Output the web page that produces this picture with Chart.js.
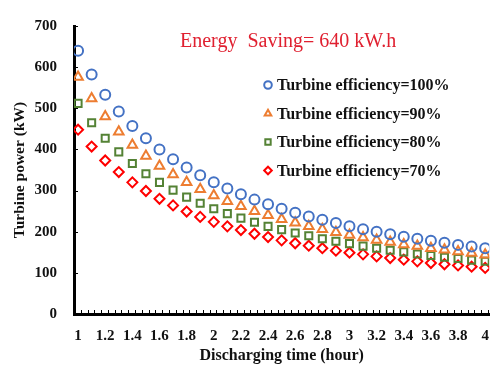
<!DOCTYPE html>
<html>
<head>
<meta charset="utf-8">
<script src="https://cdn.jsdelivr.net/npm/chart.js@4.4.1/dist/chart.umd.min.js"></script>
<style>
  html, body { margin: 0; padding: 0; background: #fff; }
  #wrap { width: 502px; height: 366px; position: relative; }
</style>
</head>
<body>
<div id="wrap"><canvas id="powerChart"></canvas></div>
<script>
const hours = [1.0, 1.1, 1.2, 1.3, 1.4, 1.5, 1.6, 1.7, 1.8, 1.9, 2.0, 2.1, 2.2, 2.3, 2.4, 2.5,
               2.6, 2.7, 2.8, 2.9, 3.0, 3.1, 3.2, 3.3, 3.4, 3.5, 3.6, 3.7, 3.8, 3.9, 4.0];
const eff100 = [640, 582, 533, 492, 457, 427, 400, 376, 356, 337, 320, 305, 291, 278, 267, 256,
                246, 237, 229, 221, 213, 206, 200, 194, 188, 183, 178, 173, 168, 164, 160];
const eff90 = [576, 524, 480, 443, 411, 384, 360, 339, 320, 303, 288, 274, 262, 250, 240, 230,
               222, 213, 206, 199, 192, 186, 180, 175, 169, 165, 160, 156, 152, 148, 144];
const eff80 = [512, 465, 427, 394, 366, 341, 320, 301, 284, 269, 256, 244, 233, 223, 213, 205,
               197, 190, 183, 177, 171, 165, 160, 155, 151, 146, 142, 138, 135, 131, 128];
const eff70 = [448, 407, 373, 345, 320, 299, 280, 264, 249, 236, 224, 213, 204, 195, 187, 179,
               172, 166, 160, 154, 149, 145, 140, 136, 132, 128, 124, 121, 118, 115, 112];
const xTickLabels = [1, 1.2, 1.4, 1.6, 1.8, 2, 2.2, 2.4, 2.6, 2.8, 3, 3.2, 3.4, 3.6, 3.8, 4];
const seriesNames = ['Turbine efficiency=100%', 'Turbine efficiency=90%', 'Turbine efficiency=80%', 'Turbine efficiency=70%'];
const annotation = 'Energy  Saving= 640 kW.h';

const SERIF = '"Liberation Serif", "Times New Roman", serif';
const colors = ['#4472C4', '#ED7D31', '#548235', '#FF0000'];
const shapes = ['circle', 'triangle', 'rect', 'rectRot'];
const radii = [5, 5.5, 5, 5];

const pts = arr => arr.map((v, i) => ({ x: hours[i], y: v }));

// inward tick marks, legend and the red note
const decorations = {
    id: 'decorations',
    afterDraw(chart) {
        const ctx = chart.ctx;
        const xs = chart.scales.x, ys = chart.scales.y;
        const area = chart.chartArea;
        ctx.save();
        ctx.strokeStyle = '#000';
        ctx.lineWidth = 1;
        for (let v = xs.min; v <= xs.max + 1e-9; v += 0.05) {
            const px = Math.round(xs.getPixelForValue(v)) + 0.5;
            ctx.beginPath();
            ctx.moveTo(px, area.bottom);
            ctx.lineTo(px, area.bottom - 4);
            ctx.stroke();
        }
        for (let v = 100; v <= 700; v += 100) {
            const py = Math.round(ys.getPixelForValue(v)) + 0.5;
            ctx.beginPath();
            ctx.moveTo(area.left, py);
            ctx.lineTo(area.left + 4, py);
            ctx.stroke();
        }

        ctx.fillStyle = '#E02030';
        ctx.font = '20px ' + SERIF;
        ctx.textBaseline = 'middle';
        ctx.textAlign = 'left';
        ctx.fillText(annotation, 180, 42);

        ctx.font = 'bold 16px ' + SERIF;
        chart.data.datasets.forEach((ds, i) => {
            const y = 85 + i * 28.5;
            ctx.strokeStyle = ds.borderColor;
            ctx.fillStyle = '#fff';
            ctx.lineWidth = 2;
            Chart.helpers.drawPoint(ctx, {
                pointStyle: ds.pointStyle, radius: 3.8, borderWidth: 2
            }, 268, y);
            ctx.fillStyle = '#111';
            ctx.fillText(ds.label, 277, y + 1);
        });
        ctx.restore();
    }
};

new Chart(document.getElementById('powerChart'), {
    type: 'scatter',
    data: {
        datasets: [eff100, eff90, eff80, eff70].map((arr, i) => ({
            label: seriesNames[i],
            data: pts(arr),
            pointStyle: shapes[i],
            pointRadius: radii[i],
            borderColor: colors[i],
            backgroundColor: 'rgba(255,255,255,0)',
            pointBorderWidth: 2,
            showLine: false
        }))
    },
    options: {
        responsive: true,
        maintainAspectRatio: false,
        animation: false,
        layout: { padding: { top: 20, right: 0, left: 0, bottom: 0 } },
        plugins: { legend: { display: false }, tooltip: { enabled: false } },
        scales: {
            x: {
                type: 'linear',
                min: 0.97,
                max: 4.03,
                afterBuildTicks: s => { s.ticks = xTickLabels.map(v => ({ value: v })); },
                afterFit: s => { s.height = 52; },
                grid: { display: false, drawTicks: false },
                border: { display: true, color: '#000', width: 3 },
                ticks: {
                    padding: 13,
                    color: '#111',
                    font: { family: SERIF, size: 15, weight: 'bold' },
                    maxRotation: 0,
                    autoSkip: false,
                    callback: v => String(v)
                },
                title: {
                    display: true,
                    text: 'Discharging time (hour)',
                    color: '#111',
                    font: { family: SERIF, size: 16, weight: 'bold' },
                    padding: { top: 0, bottom: 1 }
                }
            },
            y: {
                min: 0,
                max: 700,
                afterFit: s => { s.width = 74; },
                grid: { display: false, drawTicks: false },
                border: { display: true, color: '#000', width: 3 },
                ticks: {
                    stepSize: 100,
                    padding: 17,
                    color: '#111',
                    font: { family: SERIF, size: 15, weight: 'bold' }
                },
                title: {
                    display: true,
                    text: 'Turbine power (kW)',
                    color: '#111',
                    font: { family: SERIF, size: 15.5, weight: 'bold' },
                    padding: { top: 11, bottom: 0 }
                }
            }
        }
    },
    plugins: [decorations]
});
</script>
</body>
</html>
